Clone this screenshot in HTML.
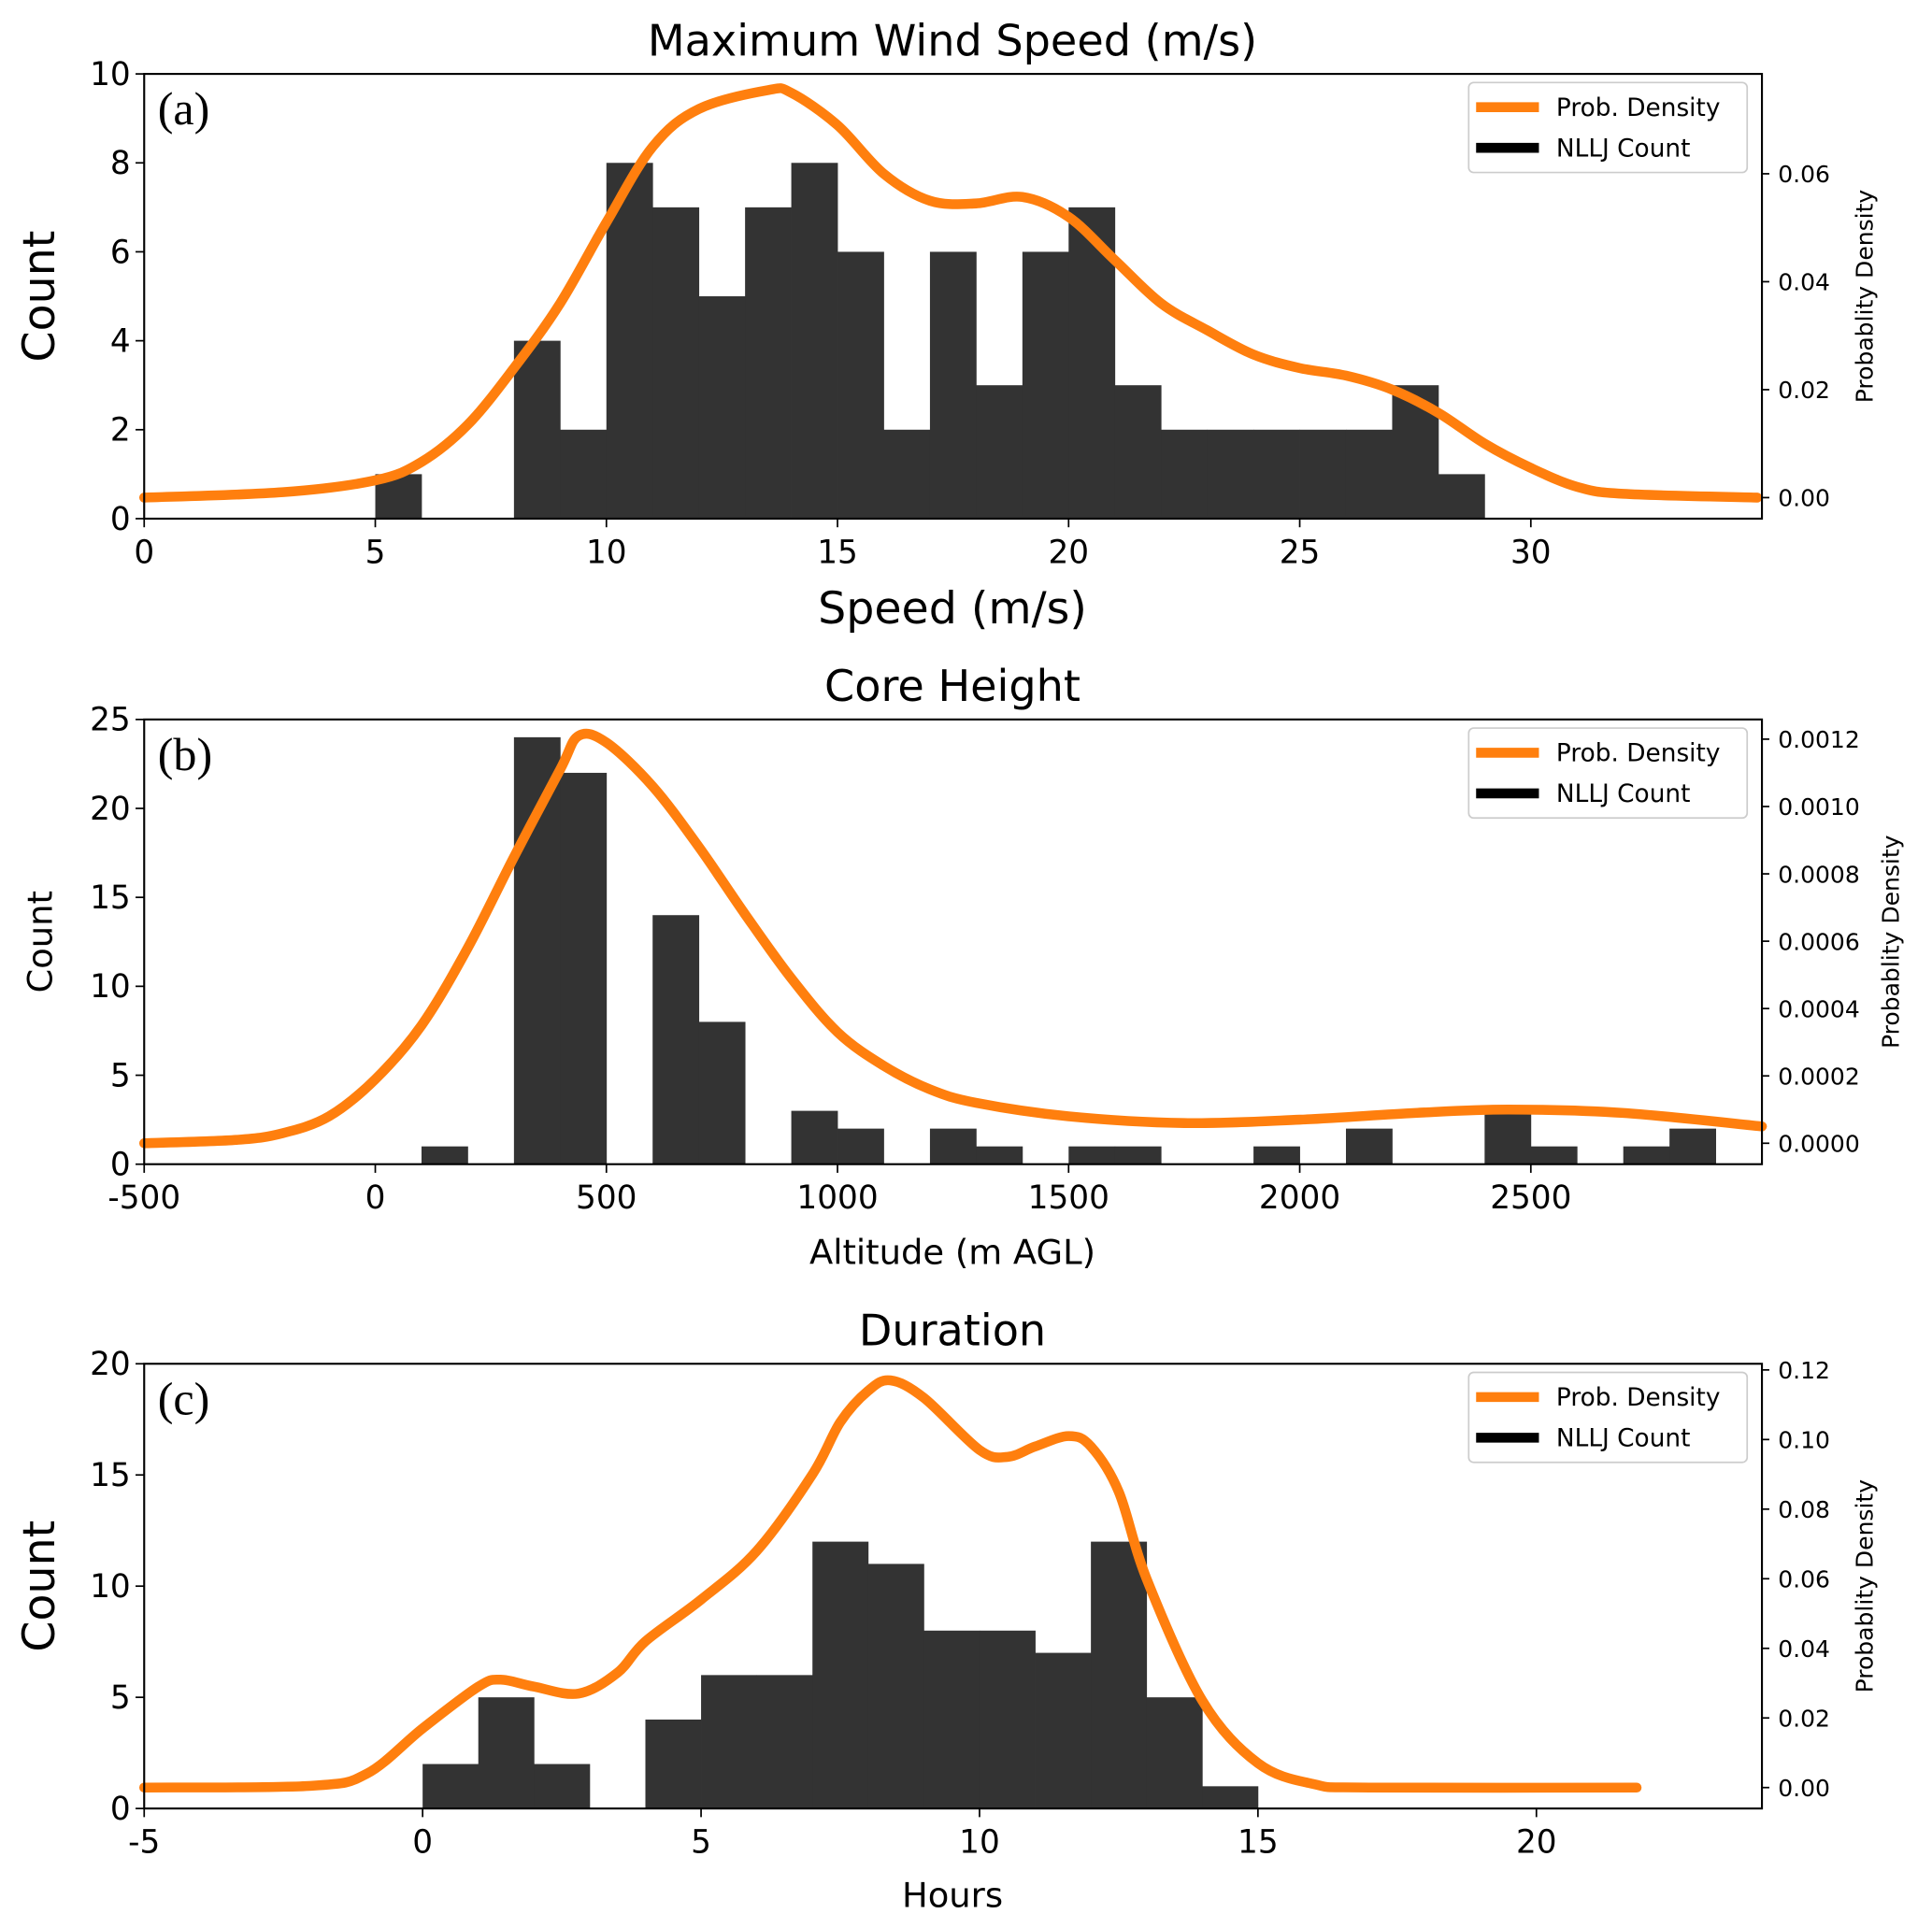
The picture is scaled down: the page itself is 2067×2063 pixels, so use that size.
<!DOCTYPE html>
<html><head><meta charset="utf-8">
<style>
html,body{margin:0;padding:0;background:#fff;}
svg{display:block;}
text{font-family:"DejaVu Sans","Liberation Sans",sans-serif;fill:#000;}
</style></head>
<body>
<svg id="chart" width="2067" height="2063" viewBox="0 0 1568 1565" xmlns="http://www.w3.org/2000/svg"></svg>
<script>
// Panel (a) data
const aBinStarts = [5,8,9,10,11,12,13,14,15,16,17,18,19,20,21,22,23,24,25,26,27,28];
const aCounts    = [1,4,2,8,7,5,7,8,6,2,6,3,6,7,3,2,2,2,2,2,3,1];
const aDensX = [0,3,5,6,7,8,9,10,11,12,13.5,14,15,16,17,18,19,20,21,22,23,24,25,26,27,28,29,30,31,32,34.9];
const aDensY = [0,0.001,0.0032,0.0066,0.0135,0.024,0.036,0.051,0.065,0.072,0.0755,0.075,0.069,0.060,0.055,0.0545,0.0557,0.052,0.044,0.036,0.031,0.0265,0.024,0.0226,0.020,0.0157,0.010,0.0055,0.002,0.0007,0];
const aXTicks = [0,5,10,15,20,25,30];
const aYTicks = [0,2,4,6,8,10];
const aRTicks = [0,0.02,0.04,0.06];
const aRLabels = ["0.00","0.02","0.04","0.06"];
// Panel (b) data
const bBinStarts = [100,300,400,600,700,900,1000,1200,1300,1500,1600,1900,2100,2400,2500,2700,2800];
const bCounts    = [1,24,22,14,8,3,2,2,1,1,1,1,2,3,1,1,2];
const bDensX = [-500,-300,-200,-100,0,100,200,300,400,440,500,600,700,800,900,1000,1100,1200,1300,1500,1750,2000,2250,2450,2700,3000];
const bDensY = [0,0.00001,0.00003,0.00008,0.00019,0.00035,0.00058,0.00085,0.00111,0.00121,0.00119,0.00106,0.00088,0.00068,0.00049,0.00033,0.00023,0.00016,0.00012,0.00008,0.00006,0.00007,0.00009,0.0001,0.00009,0.00005];
const bXTicks = [-500,0,500,1000,1500,2000,2500];
const bYTicks = [0,5,10,15,20,25];
const bRTicks = [0,0.0002,0.0004,0.0006,0.0008,0.0010,0.0012];
const bRLabels = ["0.0000","0.0002","0.0004","0.0006","0.0008","0.0010","0.0012"];
// Panel (c) data
const cBinStarts = [0,1,2,4,5,6,7,8,9,10,11,12,13,14];
const cCounts    = [2,5,2,4,6,6,12,11,8,8,7,12,5,1];
const cDensX = [-5,-2,-1,0,1,1.4,2,2.8,3.5,4,5,6,7,7.5,8,8.4,9,10,10.5,11,11.6,12,12.5,13,14,15,16,17,21.8];
const cDensY = [0,0.0005,0.004,0.017,0.029,0.031,0.029,0.027,0.033,0.042,0.054,0.068,0.090,0.105,0.114,0.117,0.112,0.097,0.095,0.098,0.101,0.098,0.085,0.060,0.025,0.007,0.001,0,0];
const cXTicks = [-5,0,5,10,15,20];
const cYTicks = [0,5,10,15,20];
const cRTicks = [0,0.02,0.04,0.06,0.08,0.10,0.12];
const cRLabels = ["0.00","0.02","0.04","0.06","0.08","0.10","0.12"];

const NS="http://www.w3.org/2000/svg";
const svg=document.getElementById('chart');
function mk(tag,attrs,parent){const e=document.createElementNS(NS,tag);for(const k in attrs)e.setAttribute(k,attrs[k]);(parent||svg).appendChild(e);return e;}
function txt(s,attrs,parent){const e=mk('text',attrs,parent);e.textContent=s;return e;}

function smoothPath(pts){
  let d='M'+pts[0][0]+','+pts[0][1];
  for(let i=0;i<pts.length-1;i++){
    const p0=pts[Math.max(0,i-1)],p1=pts[i],p2=pts[i+1],p3=pts[Math.min(pts.length-1,i+2)];
    const c1x=p1[0]+(p2[0]-p0[0])/6,c1y=p1[1]+(p2[1]-p0[1])/6;
    const c2x=p2[0]-(p3[0]-p1[0])/6,c2y=p2[1]-(p3[1]-p1[1])/6;
    d+=' C'+c1x+','+c1y+' '+c2x+','+c2y+' '+p2[0]+','+p2[1];
  }
  return d;
}

function panel(cfg){
  const g=mk('g',{});
  
  
  const L=117,R=1430,T=cfg.top,B=cfg.bottom;
  const sx=v=>L+(v-cfg.xmin)/(cfg.xmax-cfg.xmin)*(R-L);
  const sy=v=>B-(v-cfg.ymin)/(cfg.ymax-cfg.ymin)*(B-T);
  const sr=v=>B-(v-cfg.rmin)/(cfg.rmax-cfg.rmin)*(B-T);
  cfg.bins.forEach((s,i)=>{
    const r=mk('rect',{x:sx(s),y:sy(cfg.counts[i]),width:sx(s+cfg.bw)-sx(s)+0.3,height:B-sy(cfg.counts[i]),fill:'#333333'},g);
    
    
  });
  const pts=cfg.dx.map((x,i)=>[sx(x),sr(cfg.dy[i])]);
  const p=mk('path',{d:smoothPath(pts),fill:'none',stroke:'#ff7f0e','stroke-width':8,'stroke-linejoin':'round','stroke-linecap':'round'},g);
  
  
  const f=mk('rect',{x:L,y:T,width:R-L,height:B-T,fill:'none',stroke:'#000','stroke-width':1.6},g);
  
  
  cfg.xt.forEach(v=>{
    mk('line',{x1:sx(v),x2:sx(v),y1:B,y2:B+7,stroke:'#000','stroke-width':1.3},g);
    const t=txt(String(v),{x:sx(v),y:B+36,'text-anchor':'middle','font-size':26},g);
    
    
  });
  cfg.yt.forEach(v=>{
    mk('line',{x1:L-7,x2:L,y1:sy(v),y2:sy(v),stroke:'#000','stroke-width':1.3},g);
    const t=txt(String(v),{x:L-11,y:sy(v)+9,'text-anchor':'end','font-size':26},g);
    
    
  });
  cfg.rt.forEach((v,i)=>{
    mk('line',{x1:R,x2:R+6,y1:sr(v),y2:sr(v),stroke:'#000','stroke-width':1.3},g);
    const t=txt(cfg.rl[i],{x:R+13,y:sr(v)+7,'font-size':19},g);
    
    
  });
  const ti=txt(cfg.title,{x:773,y:T-15,'text-anchor':'middle','font-size':35},g);
  
  
  const xl=txt(cfg.xlabel,{x:773,y:cfg.xlabelY,'text-anchor':'middle','font-size':cfg.xlabelSize},g);
  
  
  const yc=(T+B)/2;
  const yl=txt('Count',{x:0,y:0,'text-anchor':'middle','font-size':cfg.ylabelSize,transform:`translate(${cfg.ylabelX},${yc}) rotate(-90)`},g);
  
  
  const rl=txt('Probablity Density',{x:0,y:0,'text-anchor':'middle','font-size':19,transform:`translate(${cfg.rtitleX},${yc}) rotate(-90)`},g);
  
  
  const pl=txt(cfg.label,{x:128,y:T+41,'font-size':38,style:'font-family:"Liberation Serif",serif'},g);
  
  
  const lg=mk('g',{},g);
  
  
  mk('rect',{x:1192,y:T+7,width:226,height:73,rx:4,fill:'#fff','fill-opacity':0.85,stroke:'#ccc','stroke-width':1.3},lg);
  mk('line',{x1:1198,x2:1249,y1:T+27,y2:T+27,stroke:'#ff7f0e','stroke-width':8},lg);
  mk('line',{x1:1198,x2:1249,y1:T+60,y2:T+60,stroke:'#000','stroke-width':8},lg);
  const l1=txt('Prob. Density',{x:1263,y:T+34,'font-size':20},lg);
  
  
  const l2=txt('NLLJ Count',{x:1263,y:T+67,'font-size':20},lg);
  
  
}

panel({name:'panel-a-wind-speed',key:'a',top:60,bottom:421,xmin:0,xmax:35.0,ymin:0,ymax:10,rmin:-0.0039,rmax:0.0785,
  bins:aBinStarts,counts:aCounts,bw:1,dx:aDensX,dy:aDensY,xt:aXTicks,yt:aYTicks,rt:aRTicks,rl:aRLabels,rtitleX:1520,
  title:'Maximum Wind Speed (m/s)',xlabel:'Speed (m/s)',xlabelY:506,xlabelSize:36,ylabelX:44,ylabelSize:36,label:'(a)'});
panel({name:'panel-b-core-height',key:'b',top:584,bottom:945,xmin:-500,xmax:3000,ymin:0,ymax:25,rmin:-0.0000622,rmax:0.0012585,
  bins:bBinStarts,counts:bCounts,bw:100,dx:bDensX,dy:bDensY,xt:bXTicks,yt:bYTicks,rt:bRTicks,rl:bRLabels,rtitleX:1541,
  title:'Core Height',xlabel:'Altitude (m AGL)',xlabelY:1026,xlabelSize:28,ylabelX:42,ylabelSize:28,label:'(b)'});
panel({name:'panel-c-duration',key:'c',top:1107,bottom:1468,xmin:-5,xmax:24.05,ymin:0,ymax:20,rmin:-0.00602,rmax:0.12177,
  bins:cBinStarts,counts:cCounts,bw:1,dx:cDensX,dy:cDensY,xt:cXTicks,yt:cYTicks,rt:cRTicks,rl:cRLabels,rtitleX:1520,
  title:'Duration',xlabel:'Hours',xlabelY:1548,xlabelSize:28,ylabelX:44,ylabelSize:36,label:'(c)'});
</script>
</body></html>
